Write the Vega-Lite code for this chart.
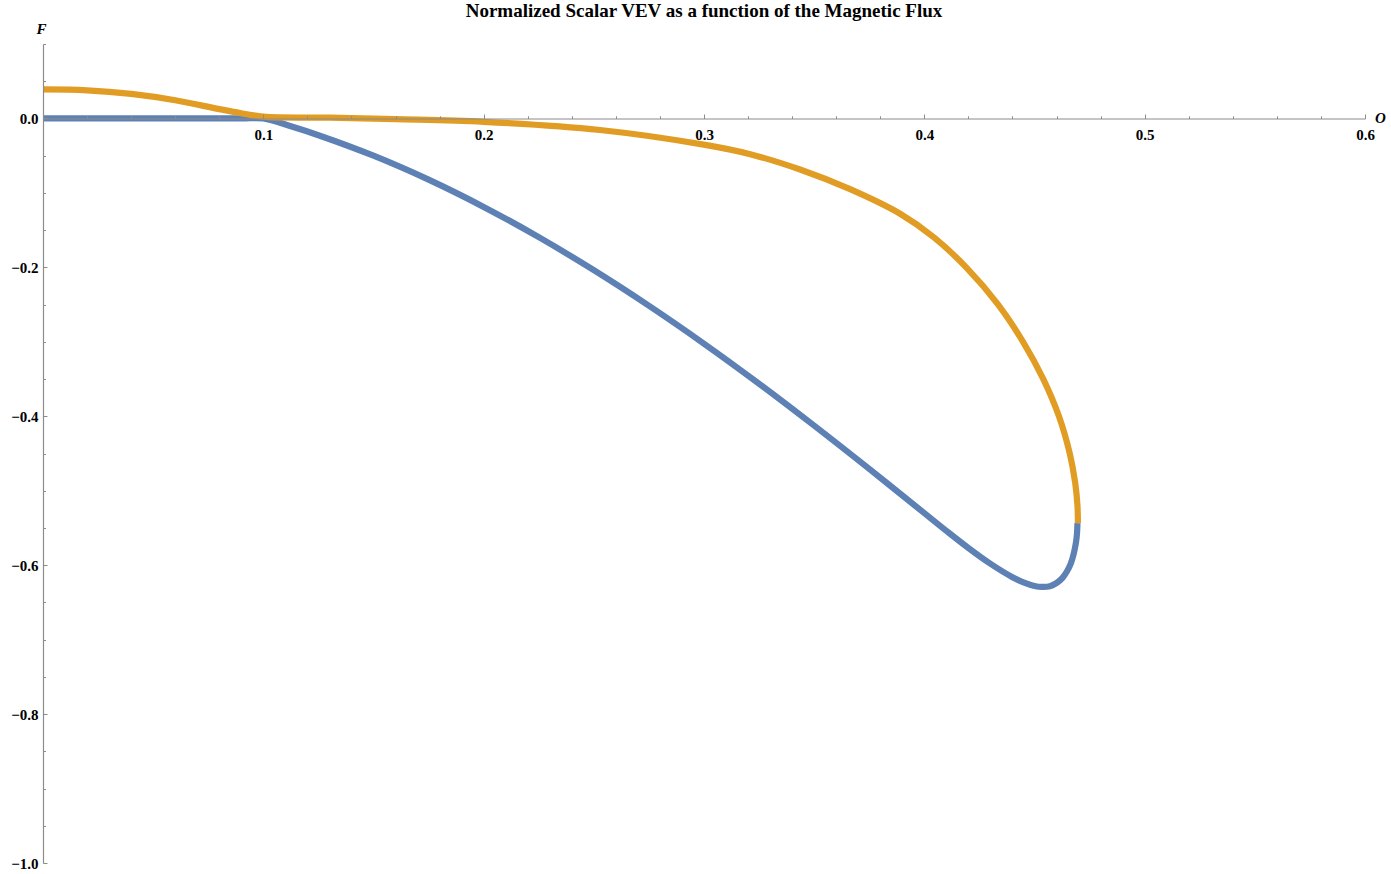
{
  "$schema": "https://vega.github.io/schema/vega-lite/v6.json",
  "width": 1322,
  "height": 819,
  "autosize": {"type": "none"},
  "padding": {"left": 43, "top": 44, "right": 26, "bottom": 11},
  "background": "white",
  "title": {
    "text": "Normalized Scalar VEV as a function of the Magnetic Flux",
    "font": "Liberation Serif",
    "fontSize": 19,
    "fontWeight": "bold",
    "color": "black",
    "anchor": "middle",
    "frame": "group",
    "offset": 0
  },
  "data": {
    "values": [
      {"s": "b", "i": 1, "x": 0, "y": 0},
      {"s": "b", "i": 2, "x": 0.05, "y": 0},
      {"s": "b", "i": 3, "x": 0.09, "y": 0},
      {"s": "b", "i": 4, "x": 0.1, "y": 0},
      {"s": "b", "i": 5, "x": 0.1125, "y": -0.0105},
      {"s": "b", "i": 6, "x": 0.125, "y": -0.0225},
      {"s": "b", "i": 7, "x": 0.15, "y": -0.05},
      {"s": "b", "i": 8, "x": 0.175, "y": -0.0822},
      {"s": "b", "i": 9, "x": 0.2, "y": -0.1188},
      {"s": "b", "i": 10, "x": 0.225, "y": -0.1594},
      {"s": "b", "i": 11, "x": 0.25, "y": -0.2038},
      {"s": "b", "i": 12, "x": 0.275, "y": -0.2516},
      {"s": "b", "i": 13, "x": 0.3, "y": -0.3025},
      {"s": "b", "i": 14, "x": 0.325, "y": -0.3563},
      {"s": "b", "i": 15, "x": 0.35, "y": -0.4126},
      {"s": "b", "i": 16, "x": 0.375, "y": -0.4707},
      {"s": "b", "i": 17, "x": 0.4, "y": -0.5301},
      {"s": "b", "i": 18, "x": 0.41, "y": -0.5539},
      {"s": "b", "i": 19, "x": 0.42, "y": -0.5769},
      {"s": "b", "i": 20, "x": 0.43, "y": -0.5981},
      {"s": "b", "i": 21, "x": 0.44, "y": -0.6161},
      {"s": "b", "i": 22, "x": 0.445, "y": -0.6231},
      {"s": "b", "i": 23, "x": 0.45, "y": -0.6279},
      {"s": "b", "i": 24, "x": 0.4535, "y": -0.6292},
      {"s": "b", "i": 25, "x": 0.457, "y": -0.6283},
      {"s": "b", "i": 26, "x": 0.4601, "y": -0.6238},
      {"s": "b", "i": 27, "x": 0.4627, "y": -0.617},
      {"s": "b", "i": 28, "x": 0.4647, "y": -0.6085},
      {"s": "b", "i": 29, "x": 0.4665, "y": -0.5975},
      {"s": "b", "i": 30, "x": 0.4678, "y": -0.5845},
      {"s": "b", "i": 31, "x": 0.4688, "y": -0.57},
      {"s": "b", "i": 32, "x": 0.4693, "y": -0.557},
      {"s": "b", "i": 33, "x": 0.4695, "y": -0.5435},
      {"s": "o", "i": 1, "x": 0, "y": 0.039},
      {"s": "o", "i": 2, "x": 0.02, "y": 0.0378},
      {"s": "o", "i": 3, "x": 0.04, "y": 0.033},
      {"s": "o", "i": 4, "x": 0.06, "y": 0.0245},
      {"s": "o", "i": 5, "x": 0.08, "y": 0.0125},
      {"s": "o", "i": 6, "x": 0.09, "y": 0.007},
      {"s": "o", "i": 7, "x": 0.1, "y": 0.0025},
      {"s": "o", "i": 8, "x": 0.13, "y": 0.001},
      {"s": "o", "i": 9, "x": 0.16, "y": -0.001},
      {"s": "o", "i": 10, "x": 0.2, "y": -0.0045},
      {"s": "o", "i": 11, "x": 0.2528, "y": -0.0155},
      {"s": "o", "i": 12, "x": 0.3005, "y": -0.0355},
      {"s": "o", "i": 13, "x": 0.321, "y": -0.048},
      {"s": "o", "i": 14, "x": 0.3436, "y": -0.0686},
      {"s": "o", "i": 15, "x": 0.3663, "y": -0.095},
      {"s": "o", "i": 16, "x": 0.389, "y": -0.128},
      {"s": "o", "i": 17, "x": 0.4045, "y": -0.16},
      {"s": "o", "i": 18, "x": 0.419, "y": -0.2},
      {"s": "o", "i": 19, "x": 0.4335, "y": -0.25},
      {"s": "o", "i": 20, "x": 0.4448, "y": -0.3},
      {"s": "o", "i": 21, "x": 0.454, "y": -0.35},
      {"s": "o", "i": 22, "x": 0.4611, "y": -0.4},
      {"s": "o", "i": 23, "x": 0.466, "y": -0.45},
      {"s": "o", "i": 24, "x": 0.4685, "y": -0.49},
      {"s": "o", "i": 25, "x": 0.4695, "y": -0.52},
      {"s": "o", "i": 26, "x": 0.4697, "y": -0.5435}
    ]
  },
  "mark": {"type": "line", "interpolate": "catmull-rom", "strokeWidth": 6.2, "strokeCap": "butt"},
  "encoding": {
    "x": {
      "field": "x",
      "type": "quantitative",
      "scale": {"domain": [0, 0.6], "nice": false, "zero": false},
      "axis": {
        "orient": "bottom",
        "offset": -744.5,
        "zindex": 1,
        "title": "O",
        "titleFont": "Liberation Serif",
        "titleFontSize": 15,
        "titleFontWeight": "bold",
        "titleFontStyle": "italic",
        "titleColor": "black",
        "titleAngle": 0,
        "titleX": 1337,
        "titleY": -1,
        "titleAlign": "center",
        "titleBaseline": "middle",
        "values": [0.02, 0.04, 0.06, 0.08, 0.1, 0.12, 0.14, 0.16, 0.18, 0.2, 0.22, 0.24, 0.26, 0.28, 0.3, 0.32, 0.34, 0.36, 0.38, 0.4, 0.42, 0.44, 0.46, 0.48, 0.5, 0.52, 0.54, 0.56, 0.58, 0.6],
        "labelExpr": "abs(datum.value*10 - round(datum.value*10)) < 0.000001 ? format(datum.value, '.1f') : ''",
        "labelOverlap": false,
        "labelFlush": false,
        "labelFont": "Liberation Serif",
        "labelFontSize": 15,
        "labelFontWeight": "bold",
        "labelColor": "black",
        "labelPadding": 13,
        "tickSize": {"condition": {"test": "abs(datum.value*10 - round(datum.value*10)) < 0.000001", "value": -4.5}, "value": -2.7},
        "tickColor": "#8c8c8c",
        "tickWidth": 1,
        "domainColor": "#8c8c8c",
        "domainWidth": 1.2,
        "grid": false
      }
    },
    "y": {
      "field": "y",
      "type": "quantitative",
      "scale": {"domain": [-1, 0.1], "nice": false, "zero": false},
      "axis": {
        "orient": "left",
        "zindex": 1,
        "title": "F",
        "titleFont": "Liberation Serif",
        "titleFontSize": 15,
        "titleFontWeight": "bold",
        "titleFontStyle": "italic",
        "titleColor": "black",
        "titleAngle": 0,
        "titleX": -2,
        "titleY": -16,
        "titleAlign": "center",
        "titleBaseline": "middle",
        "values": [0.1, 0.05, 0, -0.05, -0.1, -0.15, -0.2, -0.25, -0.3, -0.35, -0.4, -0.45, -0.5, -0.55, -0.6, -0.65, -0.7, -0.75, -0.8, -0.85, -0.9, -0.95, -1],
        "labelExpr": "abs(datum.value*5 - round(datum.value*5)) < 0.000001 ? replace(format(datum.value, '.1f'), '-', '\u2212') : ''",
        "labelOverlap": false,
        "labelFlush": false,
        "labelFont": "Liberation Serif",
        "labelFontSize": 15,
        "labelFontWeight": "bold",
        "labelColor": "black",
        "labelPadding": 9,
        "tickSize": {"condition": {"test": "abs(datum.value*5 - round(datum.value*5)) < 0.000001", "value": -4}, "value": -2.5},
        "tickColor": "#8c8c8c",
        "tickWidth": 1,
        "domainColor": "#8c8c8c",
        "domainWidth": 1.2,
        "grid": false
      }
    },
    "color": {
      "field": "s",
      "type": "nominal",
      "scale": {"domain": ["b", "o"], "range": ["#5E81B5", "#E19C24"]},
      "legend": null
    },
    "order": {"field": "i", "type": "quantitative"}
  },
  "config": {"view": {"stroke": null}}
}
